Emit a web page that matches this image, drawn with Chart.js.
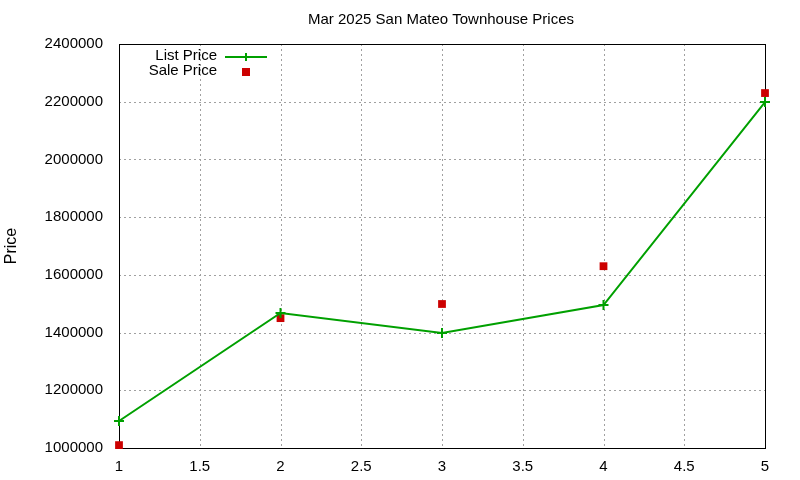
<!DOCTYPE html>
<html><head><meta charset="utf-8">
<script src="https://cdn.jsdelivr.net/npm/chart.js@4"></script>
<style>html,body{margin:0;padding:0;background:#fff}#w{width:800px;height:480px}</style>
</head><body><div id="w"><canvas id="c"></canvas></div>
<script>
const xValues = [1, 2, 3, 4, 5];
const listPrices = [1093500, 1468000, 1398500, 1495500, 2199000];
const salePrices = [1010000, 1450000, 1499000, 1630000, 2230000];
const chartTitle = "Mar 2025 San Mateo Townhouse Prices";
const FONT = "'Liberation Sans', Arial, sans-serif";

const deco = {
  id: 'deco',
  beforeDatasetsDraw(chart) {
    const {ctx, chartArea: a, scales: {x, y}} = chart;
    ctx.save();
    ctx.strokeStyle = '#a0a0a0'; ctx.lineWidth = 1; ctx.setLineDash([2, 3]);
    for (let v = 1.5; v < 5; v += 0.5) { const px = Math.round(x.getPixelForValue(v)) + 0.5; ctx.beginPath(); ctx.moveTo(px, a.top); ctx.lineTo(px, a.bottom); ctx.stroke(); }
    for (let v = 1200000; v < 2400000; v += 200000) { const py = Math.round(y.getPixelForValue(v)) + 0.5; ctx.beginPath(); ctx.moveTo(a.left, py); ctx.lineTo(a.right, py); ctx.stroke(); }
    ctx.setLineDash([]); ctx.strokeStyle = '#000';
    ctx.strokeRect(Math.round(a.left) + 0.5, Math.round(a.top) + 0.5, Math.round(a.right - a.left), Math.round(a.bottom - a.top));
    ctx.fillStyle = '#000'; ctx.font = '15px ' + FONT; ctx.textAlign = 'center'; ctx.textBaseline = 'middle';
    ctx.fillText(chartTitle, 441, 20);
    ctx.save(); ctx.translate(12, 246); ctx.rotate(-Math.PI / 2); ctx.font = '16px ' + FONT; ctx.fillText('Price', 0, 0); ctx.restore();
    ctx.font = '15px ' + FONT; ctx.textAlign = 'right';
    ctx.fillText('List Price', 217, 56); ctx.fillText('Sale Price', 217, 71);
    ctx.strokeStyle = '#00a000'; ctx.lineWidth = 2;
    ctx.beginPath(); ctx.moveTo(225, 57); ctx.lineTo(267, 57); ctx.stroke();
    ctx.beginPath(); ctx.moveTo(246, 53); ctx.lineTo(246, 61); ctx.moveTo(242, 57); ctx.lineTo(250, 57); ctx.stroke();
    ctx.fillStyle = '#cc0000'; ctx.fillRect(242, 68, 8, 8);
    ctx.restore();
  }
};

new Chart(document.getElementById('c'), {
  type: 'scatter',
  data: { datasets: [
    { label: 'List Price', data: xValues.map((v, i) => ({x: v, y: listPrices[i]})), showLine: true, clip: false,
      borderColor: '#00a000', backgroundColor: '#00a000', borderWidth: 2, pointStyle: 'cross', pointRadius: 5, pointBorderWidth: 2 },
    { label: 'Sale Price', data: xValues.map((v, i) => ({x: v, y: salePrices[i]})), clip: false,
      borderColor: '#cc0000', backgroundColor: '#cc0000', pointStyle: 'rect', pointRadius: 5.5, pointBorderWidth: 0 }
  ]},
  options: {
    responsive: true, maintainAspectRatio: false, animation: false,
    layout: { padding: { top: 44, right: 35, left: 0, bottom: 0 } },
    plugins: { legend: { display: false }, title: { display: false }, tooltip: { enabled: false } },
    scales: {
      x: { type: 'linear', min: 1, max: 5, grid: { display: false }, border: { display: false },
        afterFit(s) { s.height = 32; },
        ticks: { stepSize: 0.5, color: '#000', font: { family: FONT, size: 15 }, padding: 2, maxRotation: 0, callback: v => String(v) } },
      y: { min: 1000000, max: 2400000, grid: { display: false }, border: { display: false },
        afterFit(s) { s.width = 119; },
        ticks: { stepSize: 200000, color: '#000', font: { family: FONT, size: 15 }, padding: 8, callback: v => String(v) } }
    }
  },
  plugins: [deco]
});
</script></body></html>
